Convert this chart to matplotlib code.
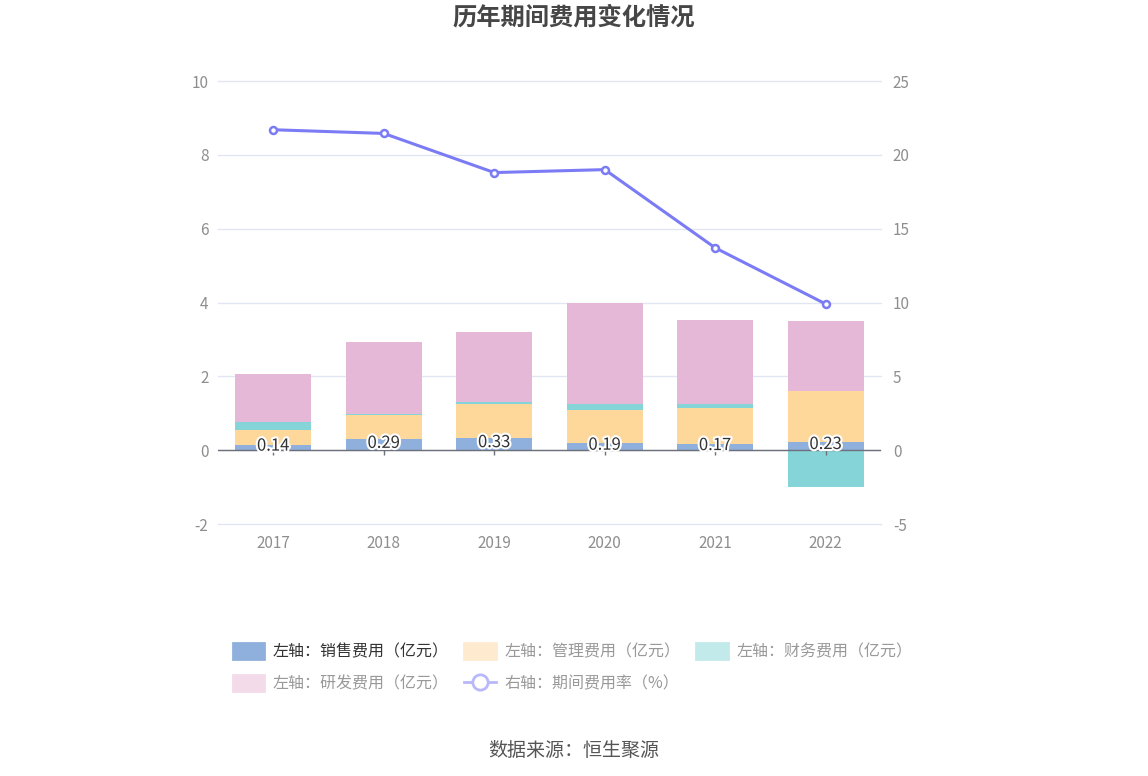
import matplotlib.pyplot as plt
import matplotlib.patheffects as pe
from matplotlib.patches import Patch
from matplotlib.lines import Line2D
import numpy as np

plt.rcParams['font.family'] = ['Noto Sans CJK SC', 'DejaVu Sans']
plt.rcParams['axes.unicode_minus'] = False

years = ['2017', '2018', '2019', '2020', '2021', '2022']
sales = [0.14, 0.29, 0.33, 0.19, 0.17, 0.23]
admin = [0.42, 0.67, 0.92, 0.91, 0.97, 1.36]
finance = [0.20, 0.03, 0.06, 0.16, 0.10, -1.00]
rnd = [1.31, 1.93, 1.89, 2.74, 2.30, 1.90]
rate = [21.7, 21.45, 18.8, 19.0, 13.7, 9.9]

sales_c = '#8fb0dd'
admin_c = '#fed89a'
fin_c = '#85d5d8'
rnd_c = '#e6b8d8'
line_c = '#7b7cf5'
grid_c = '#e1e6f2'
tick_c = '#8e8e8e'

fig = plt.figure(figsize=(11.48, 7.76), dpi=100)
ax = fig.add_axes([0.19, 0.3247, 0.5774, 0.5709])
ax2 = ax.twinx()

x = np.arange(len(years))
w = 0.69
sales_a = np.array(sales)
admin_a = np.array(admin)
fin_a = np.array(finance)
rnd_a = np.array(rnd)

# positive stack base, negative values go below zero
pos_fin = np.where(fin_a > 0, fin_a, 0)
neg_fin = np.where(fin_a < 0, fin_a, 0)

ax.bar(x, sales_a, w, color=sales_c, zorder=3)
ax.bar(x, admin_a, w, bottom=sales_a, color=admin_c, zorder=3)
ax.bar(x, pos_fin, w, bottom=sales_a + admin_a, color=fin_c, zorder=3)
ax.bar(x, neg_fin, w, bottom=0, color=fin_c, zorder=3)
ax.bar(x, rnd_a, w, bottom=sales_a + admin_a + pos_fin, color=rnd_c, zorder=3)

for xi, v in zip(x, sales):
    ax.text(xi, v / 2 + 0.04, '%.2f' % v, ha='center', va='center',
            fontsize=12, color='#333333', zorder=6,
            path_effects=[pe.withStroke(linewidth=3, foreground='white')])

ax.set_xlim(-0.5, len(years) - 0.5)
ax.set_ylim(-2, 10)
ax.set_yticks([-2, 0, 2, 4, 6, 8, 10])
ax.grid(axis='y', color=grid_c, linewidth=1, zorder=0)
for gl in ax.get_ygridlines():
    gl.set_clip_on(False)
ax.axhline(0, color='#6e7079', linewidth=1, zorder=4)
ax.vlines(x, -0.14, 0, color='#6e7079', linewidth=1, zorder=4)
ax.set_xticks(x)
ax.set_xticklabels(years)
ax.tick_params(axis='x', length=0, pad=8, labelsize=11, labelcolor=tick_c)
ax.tick_params(axis='y', length=0, pad=7, labelsize=11, labelcolor=tick_c)

ax2.plot(x, rate, color=line_c, linewidth=2.2, marker='o', markersize=5,
         markerfacecolor='white', markeredgecolor=line_c, markeredgewidth=1.8,
         zorder=5)
ax2.set_ylim(-5, 25)
ax2.set_yticks([-5, 0, 5, 10, 15, 20, 25])
ax2.tick_params(axis='y', length=0, pad=8.5, labelsize=11, labelcolor=tick_c)

for a in (ax, ax2):
    for s in a.spines.values():
        s.set_visible(False)
ax2.set_zorder(ax.get_zorder() + 1)
ax2.patch.set_visible(False)

fig.text(0.5, 0.977, '历年期间费用变化情况', ha='center', va='center',
         fontsize=17.5, fontweight='bold', color='#464646')

handles = [
    Patch(facecolor=sales_c, edgecolor=sales_c, linewidth=2, joinstyle='round',
          label='左轴：销售费用（亿元）'),
    Patch(facecolor='#feebcf', edgecolor='#feebcf', linewidth=2, joinstyle='round',
          label='左轴：管理费用（亿元）'),
    Patch(facecolor='#c2eaea', edgecolor='#c2eaea', linewidth=2, joinstyle='round',
          label='左轴：财务费用（亿元）'),
    Patch(facecolor='#f3dbea', edgecolor='#f3dbea', linewidth=2, joinstyle='round',
          label='左轴：研发费用（亿元）'),
    Line2D([0], [0], color='#b8b8fa', linewidth=2, marker='o', markersize=11,
           markerfacecolor='white', markeredgecolor='#b8b8fa',
           markeredgewidth=2, label='右轴：期间费用率（%）'),
]
order = [0, 3, 1, 4, 2]
leg = fig.legend([handles[i] for i in order],
                 [handles[i].get_label() for i in order],
                 loc='upper left', bbox_to_anchor=(0.197, 0.180), ncol=3,
                 frameon=False, fontsize=11.5, handlelength=2.0,
                 handleheight=1.15, handletextpad=0.5, columnspacing=1.0,
                 labelspacing=0.95, borderaxespad=0)
colors = ['#333333', '#999999', '#999999', '#999999', '#999999']
for t, i in zip(leg.get_texts(), order):
    t.set_color(colors[i])

fig.text(0.5, 0.033, '数据来源：恒生聚源', ha='center', va='center',
         fontsize=13.7, color='#555555')

plt.savefig('out.png', dpi=100)
